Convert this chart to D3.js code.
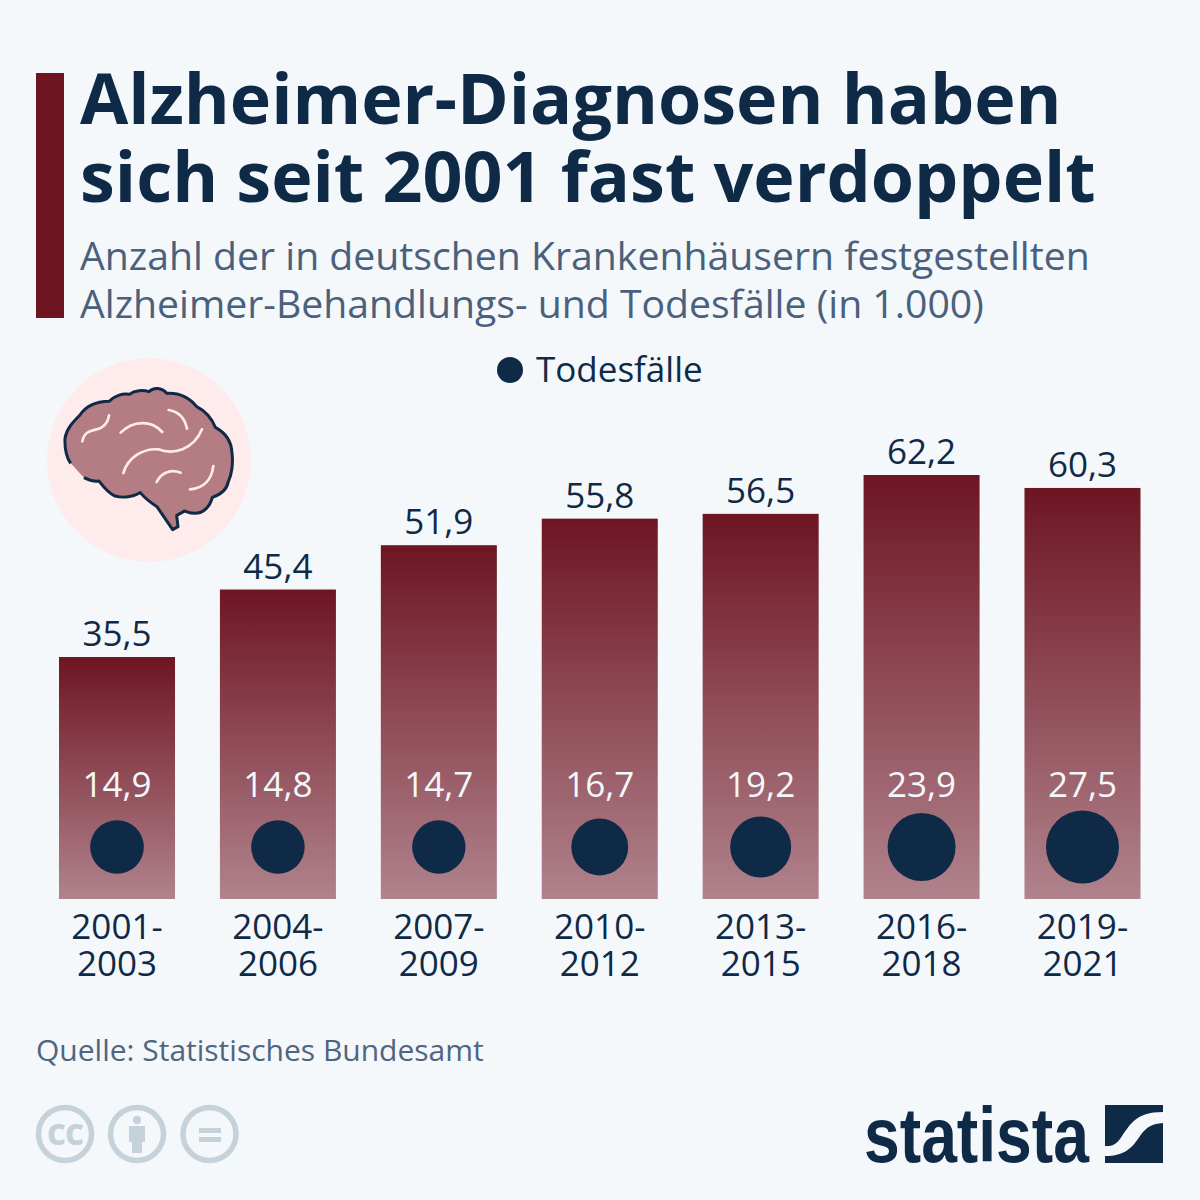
<!DOCTYPE html>
<html>
<head>
<meta charset="utf-8">
<script src="https://cdn.jsdelivr.net/npm/d3@7"></script>
<style>
  html, body { margin: 0; padding: 0; background: #f4f8fb; }
  svg { display: block; font-family: "Open Sans", sans-serif; }
</style>
</head>
<body>
<div id="chart"></div>
<script>
const periods = [['2001-', '2003'], ['2004-', '2006'], ['2007-', '2009'], ['2010-', '2012'], ['2013-', '2015'], ['2016-', '2018'], ['2019-', '2021']];
const cases = [35.5, 45.4, 51.9, 55.8, 56.5, 62.2, 60.3];
const deaths = [14.9, 14.8, 14.7, 16.7, 19.2, 23.9, 27.5];
const titleLines = ['Alzheimer-Diagnosen haben', 'sich seit 2001 fast verdoppelt'];
const subtitleLines = ['Anzahl der in deutschen Krankenhäusern festgestellten', 'Alzheimer-Behandlungs- und Todesfälle (in 1.000)'];

const navy = '#0f2a47';
const fmt = v => v.toFixed(1).replace('.', ',');

const svg = d3.select('#chart').append('svg')
    .attr('width', 1200)
    .attr('height', 1200);

svg.append('rect').attr('width', 1200).attr('height', 1200).attr('fill', '#f4f8fb');

const defs = svg.append('defs');
const grad = defs.append('linearGradient')
    .attr('id', 'barFill')
    .attr('x1', 0).attr('y1', 0).attr('x2', 0).attr('y2', 1);
grad.append('stop').attr('offset', '0%').attr('stop-color', '#6e1522');
grad.append('stop').attr('offset', '100%').attr('stop-color', '#b0838d');

// header
svg.append('rect').attr('x', 36).attr('y', 73).attr('width', 28).attr('height', 245).attr('fill', '#6e1522');

svg.append('g').selectAll('text')
    .data(titleLines)
    .join('text')
    .attr('x', 80)
    .attr('y', (d, i) => 124 + i * 78)
    .attr('font-size', 70)
    .attr('font-weight', 700)
    .attr('fill', navy)
    .text(d => d);

svg.append('g').selectAll('text')
    .data(subtitleLines)
    .join('text')
    .attr('x', 80)
    .attr('y', (d, i) => 270 + i * 48)
    .attr('font-size', 39.2)
    .attr('fill', '#4a607c')
    .text(d => d);

// legend
svg.append('circle').attr('cx', 510).attr('cy', 370).attr('r', 13).attr('fill', navy);
svg.append('text').attr('x', 536).attr('y', 382).attr('font-size', 35).attr('fill', navy).text('Todesfälle');

// scales
const x = d3.scaleBand()
    .domain(periods.map(d => d[0]))
    .range([59, 1140.5])
    .paddingInner(0.279);
const y = d3.scaleLinear().domain([0, 62.2]).range([899, 475]);
const r = d3.scaleSqrt().domain([0, 27.5]).range([0, 36.5]);
const cx = i => x(periods[i][0]) + x.bandwidth() / 2;

// bars
svg.append('g').selectAll('rect')
    .data(cases)
    .join('rect')
    .attr('x', (d, i) => x(periods[i][0]))
    .attr('y', d => y(d))
    .attr('width', x.bandwidth())
    .attr('height', d => y(0) - y(d))
    .attr('fill', 'url(#barFill)');

svg.append('g').selectAll('text')
    .data(cases)
    .join('text')
    .attr('x', (d, i) => cx(i))
    .attr('y', d => y(d) - 11)
    .attr('text-anchor', 'middle')
    .attr('font-size', 35)
    .attr('fill', navy)
    .text(fmt);

// deaths
svg.append('g').selectAll('circle')
    .data(deaths)
    .join('circle')
    .attr('cx', (d, i) => cx(i))
    .attr('cy', 847)
    .attr('r', d => r(d))
    .attr('fill', navy);

svg.append('g').selectAll('text')
    .data(deaths)
    .join('text')
    .attr('x', (d, i) => cx(i))
    .attr('y', 797)
    .attr('text-anchor', 'middle')
    .attr('font-size', 35)
    .attr('fill', '#f4f8fb')
    .text(fmt);

// x axis
const axis = svg.append('g')
    .attr('transform', 'translate(0,899)')
    .call(d3.axisBottom(x).tickSize(0).tickFormat(''))
    .attr('font-family', null)
    .attr('font-size', null);
axis.select('.domain').remove();
axis.selectAll('.tick text').remove();
axis.selectAll('.tick').each(function (d, i) {
    const label = d3.select(this).append('text')
        .attr('text-anchor', 'middle')
        .attr('font-size', 35)
        .attr('fill', navy);
    periods[i].forEach((line, k) => {
        label.append('tspan').attr('x', 0).attr('y', 40 + k * 36.5).text(line);
    });
});

// brain icon
const brain = svg.append('g');
brain.append('circle').attr('cx', 149).attr('cy', 460).attr('r', 102).attr('fill', '#feecec');
const icon = brain.append('g').attr('transform', 'translate(30,350) scale(0.3333)');
const brainShape = 'M122,340 C108,320 104,290 105,265 C110,235 130,215 150,195 C170,165 200,155 238,154 C255,135 280,130 298,133 C315,120 340,120 357,125 C370,112 395,112 410,130 C450,128 480,145 500,170 C530,185 545,205 556,232 C590,250 605,280 606,310 C610,340 605,375 595,395 C590,420 570,435 547,442 C540,470 520,490 495,490 C480,490 470,485 463,483 C455,490 445,492 440,497 L444,530 L428,539 L381,470 C365,460 345,445 331,428 C310,440 280,445 255,438 C235,430 220,410 207,393 C190,395 175,390 162,383 Z';
icon.append('path').attr('d', brainShape).attr('fill', '#b47c83');
icon.append('path')
    .attr('d', brainShape.replace(' Z', ''))
    .attr('fill', 'none')
    .attr('stroke', navy)
    .attr('stroke-width', 9)
    .attr('stroke-linejoin', 'round');
const folds = [
    'M157,274 C165,235 195,245 215,232 C228,224 235,210 237,196',
    'M272,248 C310,210 365,210 397,246',
    'M416,180 C445,185 465,205 471,236',
    'M280,369 C295,320 340,295 385,298 C430,315 490,300 516,238',
    'M380,396 C395,365 425,358 452,368',
    'M480,418 C520,415 545,390 550,348'
];
icon.append('g').selectAll('path')
    .data(folds)
    .join('path')
    .attr('d', d => d)
    .attr('fill', 'none')
    .attr('stroke', '#feecec')
    .attr('stroke-width', 8)
    .attr('stroke-linecap', 'round');

// source
svg.append('text').attr('x', 36).attr('y', 1061).attr('font-size', 30).attr('fill', '#4f6580').text('Quelle: Statistisches Bundesamt');

// cc icons
const ccColor = '#c6d2da';
const badges = [65, 137, 209.5];
svg.append('g').selectAll('circle')
    .data(badges)
    .join('circle')
    .attr('cx', d => d)
    .attr('cy', 1134)
    .attr('r', 26.5)
    .attr('fill', 'none')
    .attr('stroke', ccColor)
    .attr('stroke-width', 5.5);
svg.append('text').attr('x', 65).attr('y', 1145).attr('text-anchor', 'middle')
    .attr('font-size', 37).attr('font-weight', 700).attr('letter-spacing', -1).attr('fill', ccColor).text('cc');
svg.append('circle').attr('cx', 137).attr('cy', 1120).attr('r', 4.3).attr('fill', ccColor);
svg.append('path').attr('d', 'M129,1126 H145 V1142 H142 V1153 H132 V1142 H129 Z').attr('fill', ccColor);
svg.append('rect').attr('x', 199).attr('y', 1128).attr('width', 22).attr('height', 5).attr('fill', ccColor);
svg.append('rect').attr('x', 199).attr('y', 1137).attr('width', 22).attr('height', 5).attr('fill', ccColor);

// statista logo
svg.append('text').attr('x', 864).attr('y', 1162)
    .attr('font-family', '"Liberation Sans Narrow", "Liberation Sans", sans-serif')
    .attr('font-weight', 700)
    .attr('font-size', 78)
    .attr('textLength', 225)
    .attr('lengthAdjust', 'spacingAndGlyphs')
    .attr('fill', navy)
    .text('statista');
svg.append('path')
    .attr('d', 'M1105,1105 H1163 V1112 C1135,1112 1130,1125 1120,1139 C1115,1146 1110,1146 1105,1146 Z')
    .attr('fill', navy);
svg.append('path')
    .attr('d', 'M1163,1123 V1163 H1105 V1156 C1125,1156 1132,1148 1140,1136 C1147,1126 1152,1124 1163,1123 Z')
    .attr('fill', navy);
</script>
</body>
</html>
